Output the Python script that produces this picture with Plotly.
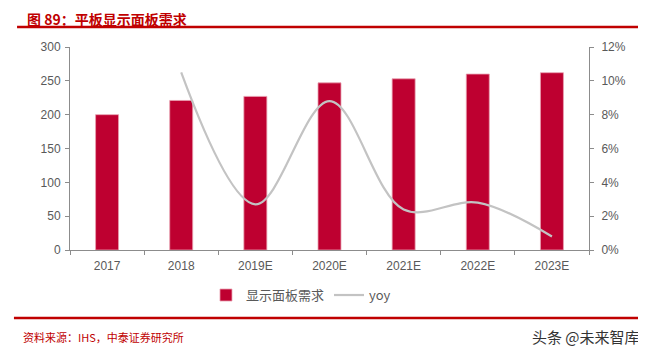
import plotly.graph_objects as go

categories = ["2017", "2018", "2019E", "2020E", "2021E", "2022E", "2023E"]
demand = [200, 221, 227, 247, 253, 260, 262]
yoy_cats = ["2018", "2019E", "2020E", "2021E", "2022E", "2023E"]
yoy = [0.105, 0.027, 0.088, 0.024, 0.028, 0.008]
left_ticks = [0, 50, 100, 150, 200, 250, 300]
right_ticks = [0, 0.02, 0.04, 0.06, 0.08, 0.10, 0.12]

RED = "#BE0030"
AXIS = "#8C8C8C"
TXT = "#595959"

fig = go.Figure()
fig.add_trace(go.Bar(
    x=categories, y=demand, name="显示面板需求",
    marker=dict(color=RED, line=dict(color="#E8A0B0", width=0.8)),
    width=0.31,
))
fig.add_trace(go.Scatter(
    x=yoy_cats, y=yoy, name="yoy", yaxis="y2", mode="lines",
    line=dict(color="#C3C3C3", width=2.2, shape="spline", smoothing=1.0),
))

# page body has an 8px default margin, so the figure is 8px smaller
fig.update_layout(
    width=638, height=348,
    margin=dict(l=62, r=57, t=39, b=106),
    paper_bgcolor="white", plot_bgcolor="white",
    font=dict(family="Liberation Sans, Arial, sans-serif", size=12, color=TXT),
    showlegend=True,
    legend=dict(orientation="h", x=0.262, xanchor="left", y=-0.222, yanchor="middle",
                font=dict(family="Noto Sans CJK SC, DejaVu Serif, serif", size=13, color=TXT),
                itemwidth=30, traceorder="normal", tracegroupgap=0),
    xaxis=dict(
        type="category", categoryorder="array", categoryarray=categories,
        showline=True, linecolor=AXIS, linewidth=1,
        ticks="outside", tickcolor=AXIS, ticklen=4, tickson="boundaries",
        showgrid=False, zeroline=False, ticklabelstandoff=5,
        tickfont=dict(size=12, color=TXT),
    ),
    yaxis=dict(
        range=[0, 300], tickvals=left_ticks, showline=True, linecolor=AXIS, linewidth=1,
        ticks="outside", tickcolor=AXIS, ticklen=4, showgrid=False, zeroline=False,
        ticklabelstandoff=2, tickfont=dict(size=12, color=TXT),
    ),
    yaxis2=dict(
        range=[0, 0.12], tickvals=right_ticks, tickformat=".0%", overlaying="y", side="right",
        showline=True, linecolor=AXIS, linewidth=1, ticks="outside", tickcolor=AXIS, ticklen=4,
        showgrid=False, zeroline=False, ticklabelstandoff=5, tickfont=dict(size=12, color=TXT),
    ),
)

# header title and rules
fig.add_annotation(text="<b>图 89：平板显示面板需求</b>", xref="paper", yref="paper",
                   x=-0.085, y=1.19, xanchor="left", yanchor="top", showarrow=False,
                   borderpad=0, font=dict(family="Noto Sans CJK SC", size=14, color="#C00000"))
fig.add_shape(type="line", xref="paper", yref="paper", x0=-0.102, x1=1.13, y0=1.099, y1=1.099,
              line=dict(color="#C00000", width=2.5))
fig.add_shape(type="line", xref="paper", yref="paper", x0=-0.108, x1=1.13, y0=-0.335, y1=-0.335,
              line=dict(color="#C00000", width=2.5))
fig.add_annotation(text="资料来源：IHS，中泰证券研究所", xref="paper", yref="paper",
                   x=-0.094, y=-0.428, xanchor="left", yanchor="middle", showarrow=False,
                   font=dict(family="Noto Sans CJK SC", size=11, color="#C00000"))
fig.add_annotation(text="头条 @未来智库", xref="paper", yref="paper",
                   x=1.102, y=-0.428, xanchor="right", yanchor="middle", showarrow=False,
                   font=dict(family="Noto Sans CJK SC", size=15, color="#333333"))

fig.write_html("out.html")
